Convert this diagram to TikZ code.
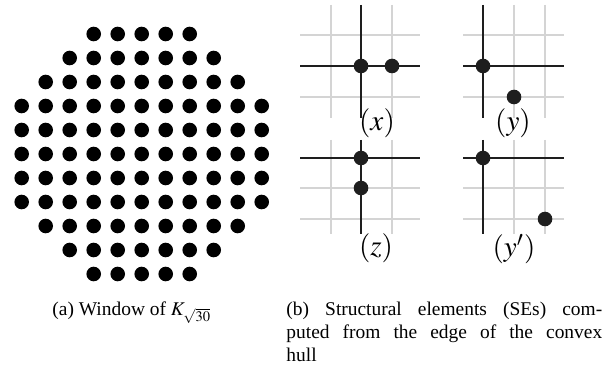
\documentclass[tikz,border=0pt]{standalone}
\usepackage{mathptmx}
\usepackage{fontspec}
\setmainfont{Liberation Serif}
\usepackage{tikz}
\usetikzlibrary{calc}
\definecolor{gridgray}{RGB}{212,212,212}
\definecolor{axisblack}{RGB}{30,30,30}
\tikzstyle{gridline} = [draw=gridgray, line width=0.9pt]
\tikzstyle{axisline} = [draw=axisblack, line width=0.9pt]
\tikzstyle{sedot} = [fill=axisblack]
\tikzstyle{winpoint} = [fill=black]
\tikzstyle{selabel} = [inner sep=0pt, font=\fontsize{12}{14}\selectfont]
\tikzstyle{subcap} = [inner sep=0pt, font=\fontsize{8}{9.5}\selectfont]

\begin{document}
\begin{tikzpicture}[x=0.41176pt, y=-0.41176pt]
				\useasboundingbox (0,0) rectangle (612,373);
				% window of K: all points with i^2+j^2 <= 30
				\foreach \i in {-5,...,5}{
					\foreach \j in {-5,...,5}{
						\pgfmathtruncatemacro{\d}{\i*\i+\j*\j}%
						\ifnum\d<31
							\fill[winpoint] ({141.7+24*\i},{154+24*\j}) circle (7.3);
						\fi
					}
				}
				% SE (x)
				\draw[gridline] (331,5) -- (331,118);
				\draw[gridline] (392,5) -- (392,118);
				\draw[gridline] (300,35) -- (420,35);
				\draw[gridline] (300,97) -- (420,97);
				\draw[axisline] (300,66) -- (420,66);
				\draw[axisline] (361,5) -- (361,118);
				\fill[sedot] (361,66) circle (7.3);
				\fill[sedot] (392,66) circle (7.3);
				% SE (y)
				\draw[gridline] (514,5) -- (514,118);
				\draw[gridline] (545,5) -- (545,118);
				\draw[gridline] (463,35) -- (564,35);
				\draw[gridline] (463,97) -- (564,97);
				\draw[axisline] (463,66) -- (564,66);
				\draw[axisline] (483,5) -- (483,118);
				\fill[sedot] (483,66) circle (7.3);
				\fill[sedot] (514,97) circle (7.3);
				% SE (z)
				\draw[gridline] (331,140) -- (331,234);
				\draw[gridline] (392,140) -- (392,234);
				\draw[gridline] (300,188) -- (420,188);
				\draw[gridline] (300,219) -- (420,219);
				\draw[axisline] (300,158) -- (420,158);
				\draw[axisline] (361,140) -- (361,234);
				\fill[sedot] (361,158) circle (7.3);
				\fill[sedot] (361,188) circle (7.3);
				% SE (y')
				\draw[gridline] (514,140) -- (514,234);
				\draw[gridline] (545,140) -- (545,234);
				\draw[gridline] (463,188) -- (564,188);
				\draw[gridline] (463,219) -- (564,219);
				\draw[axisline] (463,158) -- (564,158);
				\draw[axisline] (483,140) -- (483,234);
				\fill[sedot] (483,158) circle (7.3);
				\fill[sedot] (545,219) circle (7.3);
				% labels
				\node[selabel] (labx) at (377,123) {$(x)$};
				\node[selabel] (laby) at (513,123) {$(y)$};
				\node[selabel] (labz) at (376,248) {$(z)$};
				\node[selabel] (labyp) at (514,249) {$(y')$};
				% captions
				\node[subcap, anchor=base west] (capa) at (52,315) {(a) Window of $K_{\sqrt{30}}$};
				\node[subcap, anchor=base west, text width=130pt, align=justify] (capb) at (286,315)
					{(b) Structural elements (SEs) com-\linebreak puted from the edge of the convex\linebreak hull};
			\end{tikzpicture}
\end{document}
